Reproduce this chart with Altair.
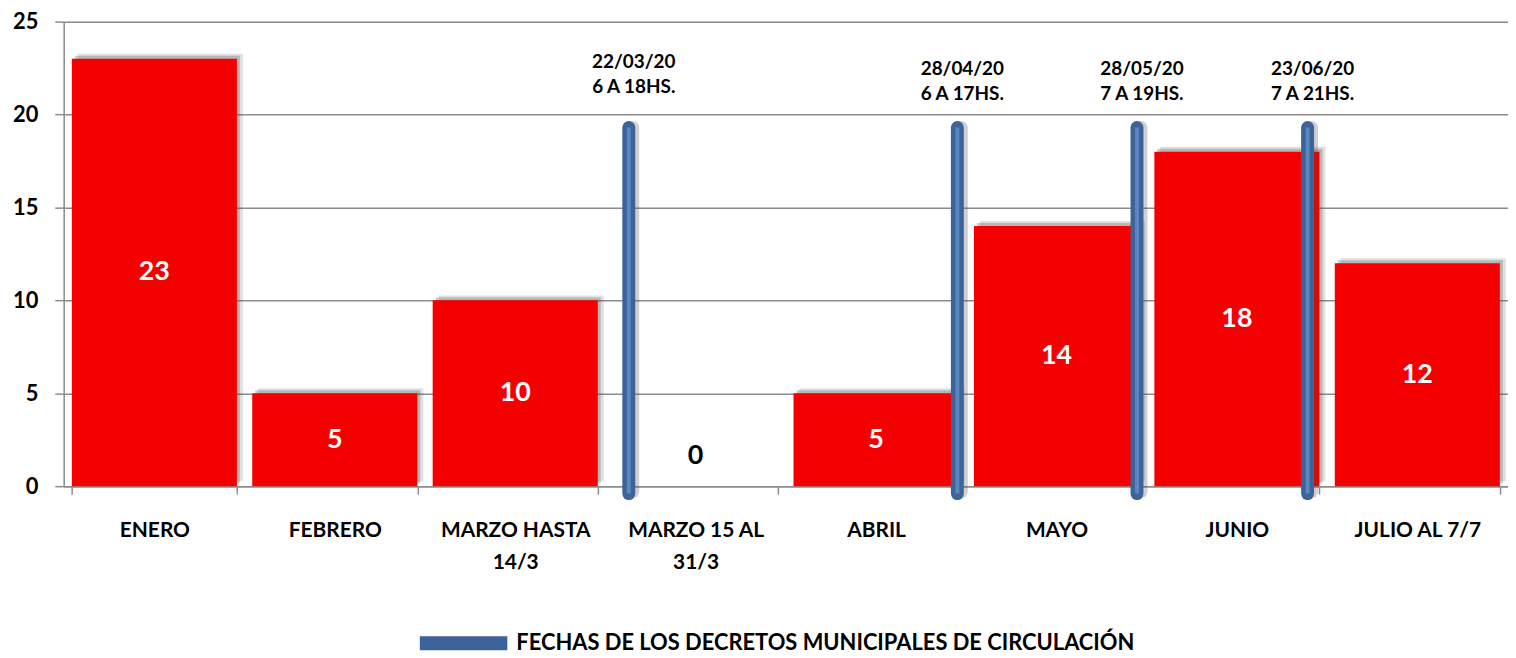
import altair as alt
import pandas as pd

# --- data ---
categories = ["ENERO", "FEBRERO", "MARZO  HASTA|14/3", "MARZO  15 AL|31/3",
              "ABRIL", "MAYO", "JUNIO", "JULIO AL 7/7"]
values = [23, 5, 10, 0, 5, 14, 18, 12]

decree_pos = [3.13, 4.95, 5.945, 6.89]          # position along the month axis
decree_top = [19.3, 19.3, 19.3, 19.3]
decree_bottom = [-0.4, -0.4, -0.4, -0.4]
decree_text = ["22/03/20\n6 A 18HS.", "28/04/20\n6 A 17HS.",
               "28/05/20\n7 A 19HS.", "23/06/20\n7 A 21HS."]
decree_text_y = [22.8, 22.45, 22.45, 22.45]
legend_label = "FECHAS DE LOS DECRETOS  MUNICIPALES DE CIRCULACIÓN"

FONT = "Lato"
RED = "#f50000"
BLUE_DARK = "#3d6398"
BLUE_LIGHT = "#5a87c2"

bars_df = pd.DataFrame({"cat": categories, "v": values})
dec_df = pd.DataFrame({"pos": decree_pos, "top": decree_top, "bot": decree_bottom,
                       "txt": decree_text, "ty": decree_text_y,
                       "serie": [legend_label] * len(decree_pos)})

W, H = 1452, 467

xband = alt.X("cat:N", sort=categories,
              scale=alt.Scale(paddingInner=0.085, paddingOuter=0.045),
              axis=alt.Axis(title=None, labelAngle=0, labelExpr="split(datum.label, '|')",
                            labelFont=FONT, labelFontSize=21, labelFontWeight="bold",
                            labelColor="black", labelPadding=26, labelLineHeight=32,
                            tickBand="extent", ticks=True, tickSize=8,
                            tickColor="#8c8c8c", tickWidth=1.5,
                            domainColor="#8c8c8c", domainWidth=1.5, grid=False))
yscale = alt.Scale(domain=[0, 25], nice=False)
yq = alt.Y("v:Q", scale=yscale,
           axis=alt.Axis(title=None, values=[0, 5, 10, 15, 20, 25],
                         labelFont=FONT, labelFontSize=22, labelFontWeight="bold",
                         labelColor="black", labelPadding=17, tickSize=9,
                         tickColor="#8c8c8c", tickWidth=1.5,
                         domainColor="#8c8c8c", domainWidth=1.5,
                         grid=True, gridColor="#8c8c8c", gridWidth=1.5))

base = alt.Chart(bars_df)
shadow1 = base.mark_bar(color="#555555", opacity=0.18, xOffset=6, yOffset=-5).encode(x=xband, y=yq)
shadow2 = base.mark_bar(color="#555555", opacity=0.3, xOffset=3, yOffset=-3).encode(x=xband, y=yq)
bars = base.mark_bar(color=RED).encode(x=xband, y=yq)
lab_pos = base.transform_filter("datum.v > 0").transform_calculate(mid="datum.v / 2").mark_text(
    font=FONT, fontSize=27, fontWeight="bold", color="white", baseline="middle"
).encode(x=xband, y=alt.Y("mid:Q", scale=yscale), text="v:Q")
lab_zero = base.transform_filter("datum.v == 0").mark_text(
    font=FONT, fontSize=27, fontWeight="bold", color="black", baseline="middle", dy=-30
).encode(x=xband, y=alt.Y("v:Q", scale=yscale), text="v:Q")

bar_layer = alt.layer(shadow1, shadow2, bars, lab_pos, lab_zero)

xq = alt.X("pos:Q", scale=alt.Scale(domain=[0, 8], nice=False, zero=False), axis=None)
dbase = alt.Chart(dec_df)
rule_shadow = dbase.mark_rule(strokeWidth=13, strokeCap="round", color="#444444",
                              opacity=0.25, xOffset=4, yOffset=-2).encode(
    x=xq, y=alt.Y("bot:Q", scale=yscale), y2="top:Q")
rule_outer = dbase.mark_rule(strokeWidth=13, strokeCap="round").encode(
    x=xq, y=alt.Y("bot:Q", scale=yscale), y2="top:Q",
    color=alt.Color("serie:N", scale=alt.Scale(range=[BLUE_DARK]),
                    legend=alt.Legend(title=None, orient="none", legendX=351, legendY=574,
                                      symbolType="stroke", symbolSize=7744,
                                      symbolStrokeWidth=14, labelFont=FONT,
                                      labelFontSize=22, labelFontWeight="bold",
                                      labelColor="black", labelOffset=2, labelLimit=1000)))
rule_inner = dbase.mark_rule(strokeWidth=4, color=BLUE_LIGHT).encode(
    x=xq, y=alt.Y("bot:Q", scale=yscale), y2="top:Q")
ann = dbase.mark_text(font=FONT, fontSize=19, fontWeight="bold", color="black",
                      align="center", baseline="middle", lineHeight=25, lineBreak="\n", dx=5).encode(
    x=xq, y=alt.Y("ty:Q", scale=yscale), text="txt:N")

dec_layer = alt.layer(rule_shadow, rule_outer, rule_inner, ann)

chart = alt.layer(bar_layer, dec_layer).resolve_scale(x="independent").properties(
    width=W, height=H,
    autosize=alt.AutoSizeParams(type="none"),
    padding={"left": 56, "top": 12, "right": 0, "bottom": 168},
).configure_view(stroke=None).configure(background="white")

chart.save("out.html", embed_options={"renderer": "svg", "actions": False})
